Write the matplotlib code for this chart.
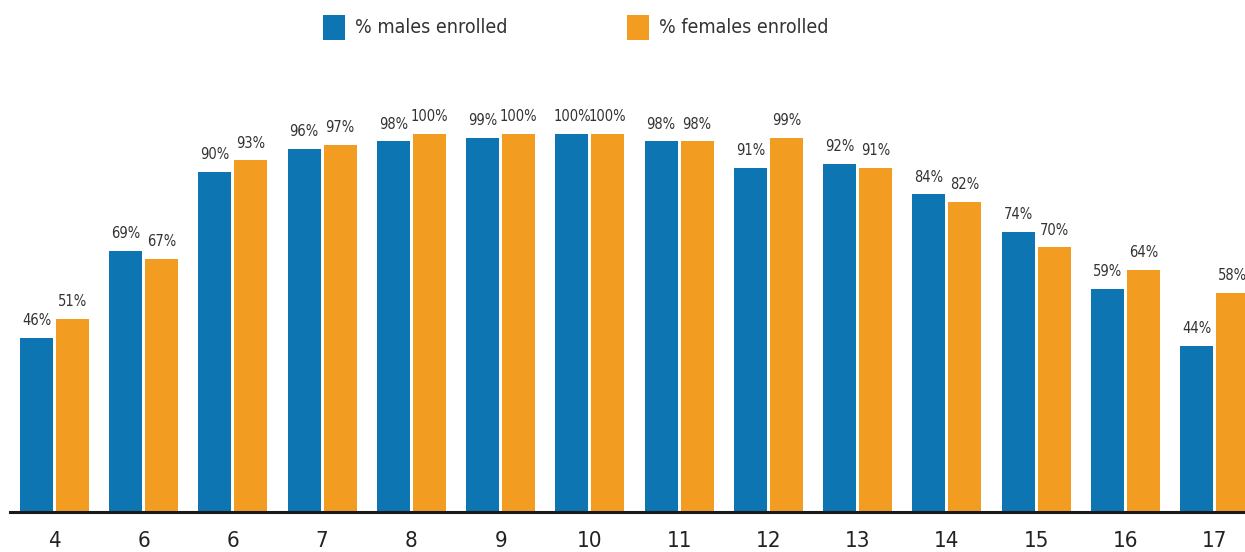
import matplotlib
matplotlib.use("Agg")
import matplotlib.pyplot as plt
from matplotlib.patches import Rectangle
import numpy as np

plt.rcParams['font.family'] = ['DejaVu Sans']
plt.rcParams['font.stretch'] = 'condensed'

# Enrolment by age
ages = ["4", "6", "6", "7", "8", "9", "10", "11", "12", "13", "14", "15", "16", "17"]
males = [46, 69, 90, 96, 98, 99, 100, 98, 91, 92, 84, 74, 59, 44]
females = [51, 67, 93, 97, 100, 100, 100, 98, 99, 91, 82, 70, 64, 58]

BLUE = "#0C75B2"
ORANGE = "#F39C22"
TEXT = "#333333"

W, H = 1245, 552
fig = plt.figure(figsize=(W / 100, H / 100), dpi=100)
ax = fig.add_axes([10 / W, 40 / H, 1235 / W, 512 / H])

x = np.arange(len(ages))
bw = 0.37
off = 0.2017
bm = ax.bar(x - off, males, width=bw, color=BLUE, zorder=2)
bf = ax.bar(x + off, females, width=bw, color=ORANGE, zorder=2)

for bars, vals in ((bm, males), (bf, females)):
    for b, v in zip(bars, vals):
        ax.annotate(f"{v}%", (b.get_x() + b.get_width() / 2, v),
                    xytext=(0, 7), textcoords="offset points",
                    ha="center", va="bottom", fontsize=10.5, color=TEXT)

ax.set_xlim(-0.4987, 13.342)
ax.set_ylim(0, 135.4)
ax.set_xticks(x)
ax.set_xticklabels(ages, fontsize=16, color="#222222")
ax.tick_params(axis="x", length=0, pad=14)
ax.set_yticks([])
for s in ("left", "right", "top"):
    ax.spines[s].set_visible(False)
ax.spines["bottom"].set_linewidth(2.2)
ax.spines["bottom"].set_color("#1a1a1a")
ax.spines["bottom"].set_zorder(3)

# Legend
for px, col, label in ((323, BLUE, "% males enrolled"), (627, ORANGE, "% females enrolled")):
    fig.add_artist(Rectangle((px / W, (H - 40) / H), 22 / W, 25 / H,
                             transform=fig.transFigure, color=col, lw=0))
    fig.text((px + 32) / W, (H - 27.5) / H, label, fontsize=14,
             color=TEXT, ha="left", va="center")

fig.savefig("out.png", dpi=100)
